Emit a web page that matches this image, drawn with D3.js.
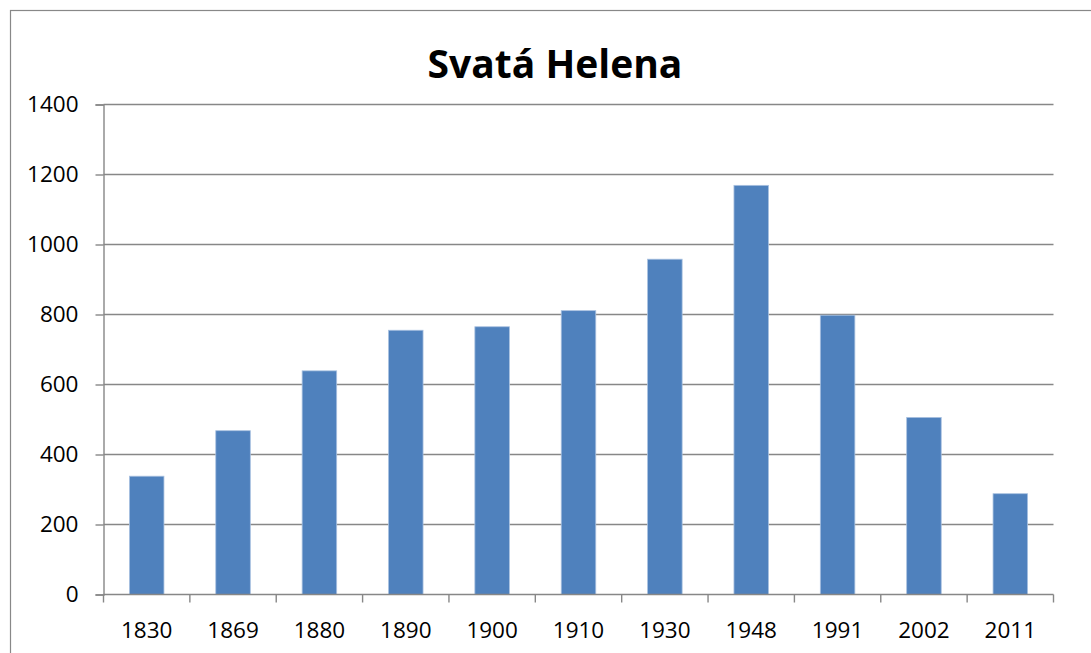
<!DOCTYPE html>
<html><head><meta charset="utf-8">
<script src="https://cdn.jsdelivr.net/npm/d3@7"></script>
<style>body{margin:0;background:#fff}svg{display:block}</style>
</head><body>
<svg id="c" width="1091" height="653"></svg>
<script>
const title = "Svatá Helena";
const years = ["1830","1869","1880","1890","1900","1910","1930","1948","1991","2002","2011"];
const population = [338, 468, 639, 755, 765, 811, 958, 1169, 798, 506, 288];
const yTicks = [0, 200, 400, 600, 800, 1000, 1200, 1400];

const svg = d3.select("#c");
const W = 1091, H = 653;
const m = {left: 103.5, right: 1053.5, top: 104.5, bottom: 594.5};
const font = "'Open Sans', sans-serif";

svg.append("rect").attr("x", 10.5).attr("y", 10.5).attr("width", W).attr("height", H)
  .attr("fill", "#fff").attr("stroke", "#888").attr("stroke-width", 1.2);

const x = d3.scaleBand().domain(years).range([m.left, m.right]).padding(0);
const y = d3.scaleLinear().domain([0, 1400]).range([m.bottom, m.top]);

// gridlines
svg.append("g").selectAll("line").data(yTicks.filter(d => d > 0)).join("line")
  .attr("x1", m.left).attr("x2", m.right)
  .attr("y1", d => y(d)).attr("y2", d => y(d))
  .attr("stroke", "#878787").attr("stroke-width", 1.4);

// y axis
const ya = d3.axisLeft(y).tickValues(yTicks).tickSize(8).tickPadding(17).tickFormat(d3.format("d"));
const gy = svg.append("g").attr("transform", `translate(${m.left},0)`).call(ya);
gy.select(".domain").attr("stroke", "#878787").attr("stroke-width", 1.4);
gy.selectAll(".tick line").attr("stroke", "#878787").attr("stroke-width", 1.4);
gy.selectAll("text").attr("font-family", font).attr("font-size", 22.5).attr("fill", "#000");

// bars
const bw = x.bandwidth() * 0.4;
svg.append("g").selectAll("rect").data(years).join("rect")
  .attr("x", d => x(d) + (x.bandwidth() - bw) / 2)
  .attr("y", (d, i) => y(population[i]))
  .attr("width", bw)
  .attr("height", (d, i) => y(0) - y(population[i]))
  .attr("fill", "#4f81bd").attr("stroke", "#a9c1e0").attr("stroke-width", 0.8);

// x axis
const gx = svg.append("g").attr("transform", `translate(0,${m.bottom})`);
gx.append("line").attr("x1", m.left).attr("x2", m.right).attr("y1", 0).attr("y2", 0)
  .attr("stroke", "#878787").attr("stroke-width", 1.4);
const bounds = years.map(d => x(d)).concat([x(years[years.length - 1]) + x.bandwidth()]);
gx.selectAll("line.t").data(bounds).join("line").attr("class", "t")
  .attr("x1", d => d).attr("x2", d => d).attr("y1", 0).attr("y2", 8)
  .attr("stroke", "#878787").attr("stroke-width", 1.4);
gx.selectAll("text").data(years).join("text")
  .attr("x", d => x(d) + x.bandwidth() / 2).attr("y", 43)
  .attr("text-anchor", "middle")
  .attr("font-family", font).attr("font-size", 22.5).attr("fill", "#000")
  .text(d => d);

// title
svg.append("text").attr("x", 555).attr("y", 78).attr("text-anchor", "middle")
  .attr("font-family", font).attr("font-weight", "bold").attr("font-size", 39)
  .attr("fill", "#000").text(title);
</script>
</body></html>
